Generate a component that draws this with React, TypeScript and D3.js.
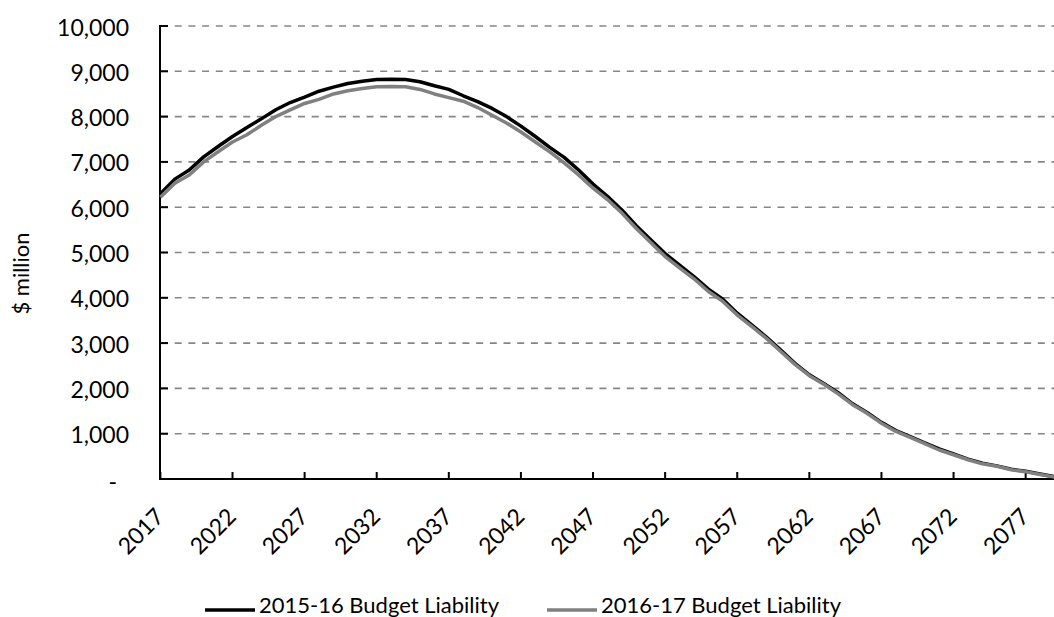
import React from "react";
import * as d3 from "d3";

// Projected budget liability, $ million, by year
const years: number[] = d3.range(2017, 2080);

const liability201516: number[] = [
  6300, 6620, 6820, 7110, 7340, 7560, 7760, 7950, 8150, 8310,
  8430, 8560, 8650, 8730, 8780, 8820, 8825, 8820, 8770, 8680,
  8600, 8460, 8330, 8180, 8000, 7790, 7560, 7320, 7100, 6820,
  6510, 6240, 5940, 5590, 5280, 4975, 4720, 4466, 4190, 3970,
  3660, 3400, 3140, 2850, 2555, 2300, 2110, 1905, 1660, 1470,
  1250, 1070, 935, 800, 665, 555, 440, 350, 290, 215,
  170, 110, 50,
];

const liability201617: number[] = [
  6220, 6530, 6710, 7000, 7225, 7440, 7600, 7810, 8000, 8150,
  8290, 8380, 8500, 8570, 8620, 8660, 8665, 8660, 8600, 8500,
  8420, 8340, 8200, 8030, 7860, 7660, 7440, 7220, 6980, 6710,
  6420, 6170, 5870, 5530, 5220, 4910, 4660, 4420, 4140, 3920,
  3620, 3370, 3110, 2820, 2530, 2280, 2090, 1880, 1640, 1450,
  1230, 1050, 920, 780, 640, 535, 425, 335, 280, 205,
  160, 100, 40,
];

const yTicks: number[] = [0, 1000, 2000, 3000, 4000, 5000, 6000, 7000, 8000, 9000, 10000];
const xTicks: number[] = d3.range(2017, 2078, 5);

const seriesNames: string[] = ["2015-16 Budget Liability", "2016-17 Budget Liability"];
const seriesColors: string[] = ["#000000", "#808080"];

const W = 1054;
const H = 617;
const FONT = "Lato, 'Open Sans', sans-serif";

export default function App() {
  const x = d3.scaleLinear().domain([2017, 2079]).range([160.4, 1054.5]);
  const y = d3.scaleLinear().domain([0, 10000]).range([479, 26]);

  const fmt = (v: number) => (v === 0 ? "-" : d3.format(",")(v));

  const line = d3
    .line<[number, number]>()
    .x((d) => x(d[0]))
    .y((d) => y(d[1]));

  const series = [liability201516, liability201617].map((vals) =>
    years.map((yr, i) => [yr, vals[i]] as [number, number])
  );

  const legendItems = [
    { x0: 205, x1: 255, tx: 259 },
    { x0: 547, x1: 597, tx: 601 },
  ];

  return (
    <svg
      width={W}
      height={H}
      style={{ position: "absolute", left: 0, top: 0, background: "#fff" }}
      fontFamily={FONT}
    >
      {/* horizontal gridlines */}
      {yTicks
        .filter((t) => t > 0)
        .map((t) => (
          <line
            key={"g" + t}
            x1={161}
            x2={W}
            y1={y(t)}
            y2={y(t)}
            stroke="#868686"
            strokeWidth={1.6}
            strokeDasharray="7,6.7"
          />
        ))}

      {/* y ticks */}
      {yTicks.map((t) => (
        <line key={"yt" + t} x1={160} x2={168} y1={y(t)} y2={y(t)} stroke="#000" strokeWidth={2} />
      ))}

      {/* y tick labels */}
      {yTicks.map((t) => (
        <text
          key={"yl" + t}
          x={t === 0 ? 117 : 129}
          y={y(t) + (t === 0 ? 11 : 9.5)}
          textAnchor="end"
          fontSize={23}
          fill="#000"
        >
          {fmt(t)}
        </text>
      ))}

      {/* axes */}
      <line x1={160} x2={160} y1={25} y2={480} stroke="#000" strokeWidth={2} />
      <line x1={159} x2={W} y1={479} y2={479} stroke="#000" strokeWidth={2} />

      {/* x ticks */}
      {xTicks.map((t) => (
        <line key={"xt" + t} x1={x(t)} x2={x(t)} y1={479} y2={472} stroke="#000" strokeWidth={2} />
      ))}

      {/* x tick labels */}
      {xTicks.map((t) => (
        <text
          key={"xl" + t}
          transform={`translate(${x(t) + 5},${518}) rotate(-45)`}
          textAnchor="end"
          fontSize={23}
          fill="#000"
        >
          {t}
        </text>
      ))}

      {/* y axis title */}
      <text transform="translate(29,273.5) rotate(-90)" textAnchor="middle" fontSize={22} fill="#000">
        $ million
      </text>

      {/* series lines */}
      {series.map((s, i) => (
        <path
          key={"s" + i}
          d={line(s) || ""}
          fill="none"
          stroke={seriesColors[i]}
          strokeWidth={3.5}
          strokeLinejoin="round"
        />
      ))}

      {/* legend */}
      {legendItems.map((it, i) => (
        <g key={"lg" + i}>
          <line x1={it.x0} x2={it.x1} y1={610} y2={610} stroke={seriesColors[i]} strokeWidth={3.5} />
          <text x={it.tx} y={613} fontSize={22} fill="#000">
            {seriesNames[i]}
          </text>
        </g>
      ))}
    </svg>
  );
}
